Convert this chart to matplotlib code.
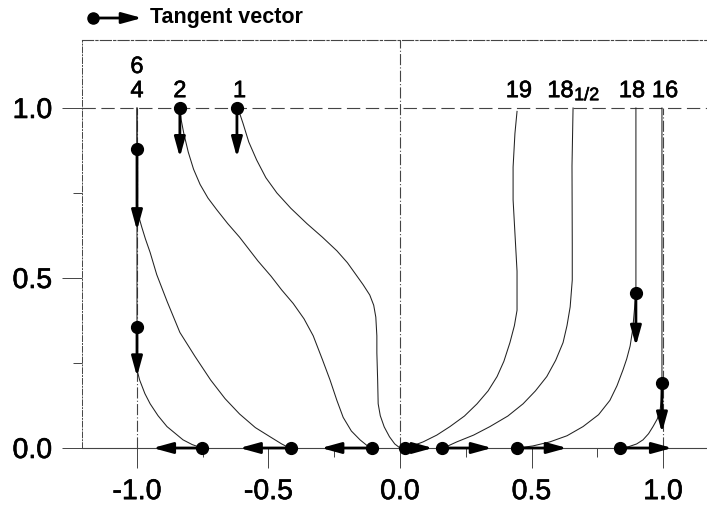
import matplotlib
matplotlib.use("Agg")
import matplotlib.pyplot as plt
import matplotlib.patheffects as pe

plt.rcParams['font.family'] = ['Liberation Sans', 'DejaVu Sans']

# ---------------- data ----------------
curve_6_x = [-1.0, -1.0, -0.99, -0.97, -0.95, -0.92, -0.886, -0.825, -0.79, -0.753]
curve_6_y = [1.0, 0.23, 0.20, 0.16, 0.13, 0.095, 0.063, 0.024, 0.01, 0.0]

curve_4_x = [-1.0, -1.0, -0.993, -0.982, -0.968, -0.95, -0.925, -0.885, -0.837, -0.78, -0.72,
             -0.665, -0.61, -0.55, -0.494, -0.45, -0.42]
curve_4_y = [1.0, 0.70, 0.68, 0.65, 0.615, 0.575, 0.51, 0.43, 0.34, 0.27, 0.20,
             0.145, 0.10, 0.06, 0.033, 0.012, 0.0]

curve_2_x = [-0.837, -0.832, -0.822, -0.805, -0.785, -0.76, -0.73, -0.696, -0.655, -0.61,
             -0.54, -0.49, -0.45, -0.406, -0.365, -0.33, -0.295, -0.266, -0.24, -0.216,
             -0.185, -0.152, -0.125, -0.107]
curve_2_y = [1.0, 0.965, 0.925, 0.87, 0.82, 0.775, 0.735, 0.70, 0.66, 0.62,
             0.55, 0.505, 0.465, 0.425, 0.38, 0.33, 0.26, 0.20, 0.14, 0.09,
             0.05, 0.024, 0.007, 0.0]

curve_1_x = [-0.62, -0.61, -0.597, -0.575, -0.545, -0.51, -0.468, -0.415, -0.354, -0.295,
             -0.24, -0.2, -0.163, -0.14, -0.115, -0.1, -0.092, -0.088, -0.088, -0.085,
             -0.083, -0.075, -0.06, -0.04, -0.02, 0.0]
curve_1_y = [1.0, 0.985, 0.955, 0.90, 0.847, 0.795, 0.75, 0.705, 0.66, 0.62,
             0.58, 0.545, 0.505, 0.48, 0.45, 0.42, 0.385, 0.33, 0.28, 0.20,
             0.13, 0.095, 0.062, 0.033, 0.012, 0.0]

curve_19_x = [0.445, 0.437, 0.43, 0.43, 0.437, 0.445, 0.445, 0.435, 0.418, 0.395, 0.369,
              0.335, 0.293, 0.245, 0.19, 0.14, 0.088, 0.05, 0.018]
curve_19_y = [0.99, 0.925, 0.826, 0.73, 0.632, 0.52, 0.405, 0.36, 0.31, 0.255, 0.21,
              0.168, 0.13, 0.094, 0.063, 0.038, 0.018, 0.007, 0.0]

curve_18h_x = [0.658, 0.654, 0.655, 0.655, 0.647, 0.635, 0.62, 0.592, 0.558, 0.515,
               0.468, 0.41, 0.342, 0.28, 0.216, 0.185, 0.16]
curve_18h_y = [1.0, 0.83, 0.6, 0.494, 0.415, 0.36, 0.31, 0.258, 0.21, 0.168,
               0.13, 0.094, 0.063, 0.038, 0.018, 0.007, 0.0]

curve_18_x = [0.897, 0.897, 0.885, 0.875, 0.862, 0.848, 0.825, 0.798, 0.755, 0.696,
              0.635, 0.57, 0.505, 0.449]
curve_18_y = [1.0, 0.456, 0.35, 0.30, 0.262, 0.23, 0.183, 0.14, 0.098, 0.063,
              0.036, 0.018, 0.006, 0.0]

curve_16_x = [0.996, 0.996, 0.993, 0.989, 0.978, 0.962, 0.945, 0.924, 0.9, 0.87, 0.837]
curve_16_y = [1.0, 0.19, 0.14, 0.11, 0.085, 0.063, 0.042, 0.024, 0.012, 0.004, 0.0]

# tangent vectors: start point (dot) and tip
tan_x0 = [-1.0, -0.837, -0.62, -1.0, 0.897, 0.996,
          -0.753, -0.414, -0.107, 0.018, 0.16, 0.445, 0.836]
tan_y0 = [0.88, 1.0, 1.0, 0.356, 0.456, 0.19,
          0.0, 0.0, 0.0, 0.0, 0.0, 0.0, 0.0]
tan_x1 = [-1.0, -0.837, -0.62, -1.0, 0.897, 0.996,
          -0.94, -0.61, -0.30, 0.125, 0.35, 0.635, 1.035]
tan_y1 = [0.64, 0.855, 0.855, 0.21, 0.30, 0.045,
          0.0, 0.0, 0.0, 0.0, 0.0, 0.0, 0.0]

# curve labels
label_text = ['6', '4', '2', '1', '19', '18', '18', '16']
label_x = [-1.0, -1.0, -0.837, -0.61, 0.452, 0.61, 0.882, 1.008]
label_y = [1.103, 1.032, 1.032, 1.032, 1.032, 1.032, 1.032, 1.032]
half_text = '1/2'
half_x = 0.662
half_y = 1.023

x_ticks = [-1.0, -0.5, 0.0, 0.5, 1.0]
x_tick_labels = ['-1.0', '-0.5', '0.0', '0.5', '1.0']
x_minor = [-0.75, -0.25, 0.25, 0.75]
y_ticks = [0.0, 0.5, 1.0]
y_tick_labels = ['0.0', '0.5', '1.0']
y_minor = [0.25, 0.75]

legend_label = 'Tangent vector'

# ---------------- figure ----------------
W, H = 707, 509
fig = plt.figure(figsize=(W / 100, H / 100), dpi=100)
ax = fig.add_axes([82 / W, (H - 448) / H, 625 / W, 408 / H])
ax.set_xlim(-318 / 263, 307 / 263)
ax.set_ylim(0, 1.2)

grid_c = '#444444'
ax.spines['right'].set_visible(False)
ax.spines['left'].set_linestyle((0, (6, 2, 1, 2)))
ax.spines['left'].set_color(grid_c)
ax.spines['left'].set_linewidth(0.7)
ax.spines['top'].set_linestyle((0, (10, 2, 2, 2)))
ax.spines['top'].set_color(grid_c)
ax.spines['top'].set_linewidth(0.8)
ax.spines['bottom'].set_color(grid_c)
ax.spines['bottom'].set_linewidth(0.8)

thick = [pe.withStroke(linewidth=0.45, foreground='black')]

ax.set_xticks(x_ticks)
ax.set_xticklabels(x_tick_labels)
ax.set_xticks(x_minor, minor=True)
ax.set_yticks(y_ticks)
ax.set_yticklabels(y_tick_labels)
ax.set_yticks(y_minor, minor=True)
ax.tick_params(axis='both', which='major', direction='out', length=14.4, width=0.7,
               color=grid_c, labelsize=20.5)
ax.tick_params(axis='both', which='minor', direction='out', length=6.5, width=0.7,
               color=grid_c)
ax.tick_params(axis='x', which='major', pad=8)
ax.tick_params(axis='y', which='major', pad=7)
for lab in ax.get_xticklabels() + ax.get_yticklabels():
    lab.set_path_effects(thick)

# reference lines
ax.axhline(1.0, color=grid_c, lw=0.8, ls=(0, (12, 5)), clip_on=False)
ax.axvline(0.0, color=grid_c, lw=0.8, ls=(0, (10, 2, 1, 2)), clip_on=False)
ax.axvline(-1.0, ymin=0, ymax=1.0 / 1.2, color=grid_c, lw=0.8, ls=(0, (10, 2, 1, 2)))
ax.axvline(1.0, ymin=0, ymax=1.0 / 1.2, color=grid_c, lw=0.8, ls=(0, (10, 2, 1, 2)))

# curves
curves = [(curve_6_x, curve_6_y), (curve_4_x, curve_4_y), (curve_2_x, curve_2_y),
          (curve_1_x, curve_1_y), (curve_19_x, curve_19_y), (curve_18h_x, curve_18h_y),
          (curve_18_x, curve_18_y), (curve_16_x, curve_16_y)]
for cx, cy in curves:
    ax.plot(cx, cy, color='#222222', lw=0.75, clip_on=False)

# tangent vectors
arrow_style = '-|>,head_length=1.2,head_width=0.33'
for x0, y0, x1, y1 in zip(tan_x0, tan_y0, tan_x1, tan_y1):
    ax.annotate('', xy=(x1, y1), xytext=(x0, y0),
                arrowprops=dict(arrowstyle=arrow_style, mutation_scale=10, lw=2.0,
                                color='black', shrinkA=0, shrinkB=0),
                annotation_clip=False)
ax.plot(tan_x0, tan_y0, 'o', color='black', ms=8.5, clip_on=False, zorder=5)

# curve labels
for t, x, y in zip(label_text, label_x, label_y):
    ax.text(x, y, t, fontsize=17, ha='center', va='baseline', path_effects=thick)
ax.text(half_x, half_y, half_text, fontsize=13, ha='left', va='baseline', path_effects=thick)

# legend (tangent vector key)
lx0 = (93 - 400) / 263
lx1 = (142 - 400) / 263
ly = (448 - 18) / 340
ax.annotate('', xy=(lx1, ly), xytext=(lx0, ly),
            arrowprops=dict(arrowstyle=arrow_style, mutation_scale=10, lw=2.0,
                            color='black', shrinkA=0, shrinkB=0),
            annotation_clip=False)
ax.plot([lx0], [ly], 'o', color='black', ms=8, clip_on=False)
ax.text((150 - 400) / 263, (448 - 23) / 340, legend_label, fontsize=15.5, fontweight='bold',
        ha='left', va='baseline')

fig.savefig('out.png', dpi=100)
